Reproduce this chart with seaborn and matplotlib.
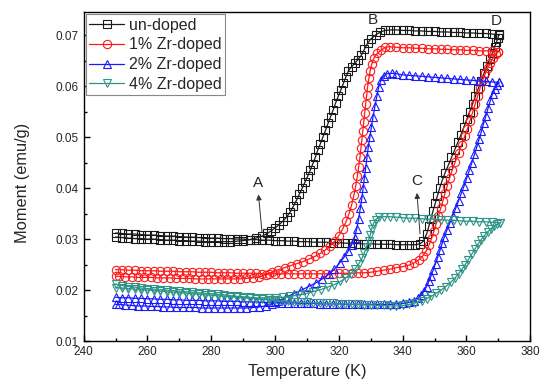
import seaborn as sns
import pandas as pd
import matplotlib.pyplot as plt
from matplotlib.ticker import MultipleLocator, FormatStrFormatter

# ---- data (heating branch, then cooling branch) ----
undoped_heat_T = [250, 252, 254, 256, 258, 260, 262, 264, 266, 268, 270, 272, 274, 276, 278, 280,
                  282, 284, 286, 288, 290, 292, 294, 296, 298, 300, 302, 304, 306, 308, 310, 312,
                  314, 316, 318, 320, 322, 324, 326, 328, 330, 332, 334, 336, 338, 340, 342, 344,
                  345.5, 346.5, 347.5, 348.2, 348.8, 349.5, 350.2, 350.9, 351.6, 352.4, 353.3,
                  354.3, 355.3, 356.3, 357.3, 358.3, 359.2, 360.1, 361, 361.9, 362.8, 363.7,
                  364.6, 365.5, 366.4, 367.3, 368.1, 368.8, 369.4, 369.9, 370.2]
undoped_heat_M = [.0312, .0311, .0310, .0310, .0309, .0308, .0308, .0307, .0306, .0306, .0305,
                  .0304, .0304, .0303, .0303, .0302, .0302, .0301, .0301, .0300, .0300, .0299,
                  .0299, .0298, .0298, .0297, .0297, .0296, .0296, .0295, .0295, .0294, .0294,
                  .0294, .0293, .0293, .0292, .0292, .0291, .0291, .0291, .0290, .0290, .0290,
                  .0289, .0289, .0289, .0289, .0291, .0296, .0310, .0325, .0340, .0355, .0370,
                  .0385, .0400, .0415, .0430, .0445, .0460, .0475, .0490, .0505, .0520, .0535,
                  .0550, .0565, .0580, .0595, .0610, .0625, .0640, .0653, .0665, .0676, .0686,
                  .0695, .0702]
undoped_cool_T = [370.2, 368, 366, 364, 362, 360, 358, 356, 354, 352, 350, 348, 346, 344, 342,
                  340, 338, 336, 334.5, 333, 331.5, 330, 329, 328, 327, 326, 325, 324, 323,
                  322.2, 321.4, 320.6, 319.8, 319, 318.2, 317.4, 316.6, 315.8, 315, 314.2,
                  313.4, 312.6, 311.8, 311, 310.2, 309.4, 308.5, 307.6, 306.7, 305.7, 304.7,
                  303.6, 302.4, 301.2, 300, 298.8, 297.5, 296, 294, 292, 290, 288, 286, 284,
                  282, 280, 278, 276, 274, 272, 270, 268, 266, 264, 262, 260, 258, 256, 254,
                  252, 250]
undoped_cool_M = [.0700, .0702, .0703, .0703, .0704, .0704, .0705, .0705, .0706, .0706, .0707,
                  .0707, .0708, .0708, .0709, .0709, .0710, .0710, .0709, .0706, .0700, .0692,
                  .0684, .0672, .0660, .0652, .0645, .0638, .0630, .0618, .0605, .0592, .0580,
                  .0567, .0553, .0540, .0527, .0513, .0500, .0487, .0475, .0460, .0447, .0435,
                  .0423, .0412, .0400, .0388, .0376, .0364, .0353, .0343, .0335, .0328, .0322,
                  .0316, .0311, .0306, .0302, .0299, .0297, .0296, .0295, .0295, .0295, .0295,
                  .0295, .0296, .0296, .0297, .0297, .0298, .0298, .0299, .0300, .0300, .0301,
                  .0301, .0302, .0303, .0304]

zr1_heat_T = [250, 252, 254, 256, 258, 260, 262, 264, 266, 268, 270, 272, 274, 276, 278, 280,
              282, 284, 286, 288, 290, 292, 294, 296, 298, 300, 302, 304, 306, 308, 310, 312,
              314, 316, 318, 320, 322, 324, 326, 328, 330, 332, 334, 336, 338, 340, 342, 343.5,
              345, 346.3, 347.4, 348.3, 349.1, 349.8, 350.5, 351.2, 351.9, 352.6, 353.3, 354,
              354.7, 355.5, 356.5, 357.5, 358.5, 359.5, 360.3, 361.1, 361.9, 362.7, 363.5,
              364.3, 365.1, 365.9, 366.7, 367.5, 368.3, 369.1, 370]
zr1_heat_M = [.0240, .0240, .0239, .0239, .0238, .0238, .0238, .0237, .0237, .0237, .0236,
              .0236, .0236, .0235, .0235, .0235, .0234, .0234, .0234, .0233, .0233, .0233,
              .0233, .0232, .0232, .0232, .0232, .0232, .0232, .0232, .0232, .0232, .0232,
              .0232, .0232, .0233, .0233, .0233, .0234, .0234, .0235, .0237, .0239, .0241,
              .0244, .0246, .0249, .0253, .0259, .0267, .0277, .0289, .0302, .0316, .0330,
              .0345, .0360, .0375, .0390, .0405, .0420, .0435, .0452, .0468, .0485, .0502,
              .0516, .0532, .0548, .0564, .0580, .0597, .0612, .0625, .0636, .0646, .0655,
              .0662, .0667]
zr1_cool_T = [370, 368, 366, 364, 362, 360, 358, 356, 354, 352, 350, 348, 346, 344, 342, 340,
              338, 336, 334.5, 333.2, 332, 331, 330.3, 329.8, 329.4, 329, 328.7, 328.4, 328.1,
              327.8, 327.5, 327.2, 326.9, 326.6, 326.2, 325.8, 325.3, 324.7, 324, 323.2,
              322.3, 321.2, 320, 318.7, 317.3, 315.8, 314.2, 312.5, 310.7, 308.8, 306.9, 305,
              303, 301, 299, 297, 295, 293, 291, 289, 287, 285, 283, 281, 279, 277, 275, 273,
              271, 269, 267, 265, 263, 261, 259, 257, 255, 253, 251, 250]
zr1_cool_M = [.0667, .0668, .0669, .0669, .0670, .0670, .0671, .0671, .0672, .0672, .0673,
              .0673, .0674, .0674, .0675, .0675, .0676, .0677, .0676, .0670, .0664, .0655,
              .0643, .0630, .0615, .0598, .0582, .0565, .0548, .0530, .0512, .0495, .0478,
              .0460, .0442, .0424, .0405, .0386, .0367, .0350, .0335, .0320, .0307, .0296,
              .0287, .0279, .0272, .0266, .0261, .0256, .0252, .0248, .0244, .0240, .0235,
              .0230, .0226, .0224, .0223, .0222, .0222, .0222, .0222, .0222, .0222, .0222,
              .0222, .0223, .0223, .0223, .0224, .0224, .0224, .0225, .0225, .0225, .0226,
              .0226, .0227, .0227]

zr2_heat_T = [250, 252, 254, 256, 258, 260, 262, 264, 266, 268, 270, 272, 274, 276, 278, 280,
              282, 284, 286, 288, 290, 292, 294, 296, 298, 300, 302, 304, 306, 308, 310, 312,
              314, 316, 318, 320, 322, 324, 326, 328, 330, 332, 334, 336, 338, 340, 342, 343.5,
              344.8, 345.8, 346.7, 347.5, 348.2, 348.9, 349.6, 350.3, 351, 351.7, 352.4, 353.1,
              353.9, 354.8, 355.7, 356.6, 357.5, 358.4, 359.3, 360.1, 360.9, 361.7, 362.5,
              363.3, 364, 364.7, 365.4, 366.1, 366.8, 367.5, 368.2, 368.9, 369.6, 370.3]
zr2_heat_M = [.0186, .0185, .0185, .0184, .0184, .0183, .0183, .0182, .0182, .0181, .0181,
              .0180, .0180, .0180, .0179, .0179, .0179, .0178, .0178, .0178, .0177, .0177,
              .0177, .0176, .0176, .0176, .0175, .0175, .0175, .0174, .0174, .0174, .0173,
              .0173, .0173, .0173, .0172, .0172, .0172, .0172, .0172, .0172, .0172, .0172,
              .0173, .0174, .0176, .0179, .0184, .0190, .0198, .0207, .0217, .0228, .0240,
              .0252, .0265, .0278, .0292, .0305, .0318, .0332, .0346, .0360, .0375, .0390,
              .0405, .0420, .0435, .0450, .0466, .0482, .0497, .0512, .0527, .0542, .0557,
              .0572, .0585, .0595, .0602, .0607]
zr2_cool_T = [370.3, 368, 366, 364, 362, 360, 358, 356, 354, 352, 350, 348, 346, 344, 342,
              340, 338, 336.5, 335, 334, 333.2, 332.5, 331.9, 331.3, 330.7, 330.2, 329.7,
              329.2, 328.8, 328.4, 328, 327.6, 327.2, 326.7, 326.2, 325.6, 324.9, 324, 322.9,
              321.6, 320.2, 318.6, 316.8, 314.8, 312.7, 310.5, 308.2, 305.8, 303.4, 301, 299,
              297, 295, 293, 291, 289, 287, 285, 283, 281, 279, 277, 275, 273, 271, 269, 267,
              265, 263, 261, 259, 257, 255, 253, 251, 250]
zr2_cool_M = [.0607, .0608, .0609, .0610, .0611, .0612, .0613, .0614, .0615, .0616, .0617,
              .0618, .0619, .0620, .0621, .0622, .0624, .0625, .0624, .0620, .0612, .0598,
              .0580, .0560, .0540, .0520, .0500, .0480, .0460, .0440, .0420, .0400, .0380,
              .0360, .0340, .0320, .0303, .0289, .0276, .0264, .0253, .0241, .0231, .0222,
              .0214, .0207, .0200, .0193, .0186, .0179, .0173, .0169, .0167, .0166, .0165,
              .0165, .0165, .0165, .0165, .0165, .0165, .0165, .0166, .0166, .0166, .0166,
              .0167, .0167, .0168, .0168, .0169, .0169, .0170, .0171, .0172, .0172]

zr4_heat_T = [250, 252, 254, 256, 258, 260, 262, 264, 266, 268, 270, 272, 274, 276, 278, 280,
              282, 284, 286, 288, 290, 292, 294, 296, 298, 300, 302, 304, 306, 308, 310, 312,
              314, 316, 318, 320, 322, 324, 326, 328, 330, 332, 334, 336, 338, 340, 342, 344,
              346, 347.5, 349, 350.5, 352, 353.5, 355, 356.3, 357.5, 358.6, 359.6, 360.6,
              361.6, 362.6, 363.6, 364.6, 365.6, 366.6, 367.6, 368.6, 369.6, 370.5]
zr4_heat_M = [.0205, .0204, .0203, .0202, .0201, .0200, .0199, .0198, .0197, .0196, .0195,
              .0194, .0193, .0192, .0191, .0190, .0189, .0188, .0187, .0186, .0185, .0184,
              .0183, .0182, .0181, .0180, .0179, .0178, .0177, .0176, .0176, .0175, .0175,
              .0174, .0174, .0173, .0173, .0172, .0172, .0171, .0171, .0170, .0170, .0169,
              .0169, .0170, .0172, .0175, .0179, .0183, .0188, .0194, .0200, .0207, .0215,
              .0223, .0232, .0241, .0250, .0260, .0270, .0280, .0290, .0299, .0307, .0314,
              .0320, .0325, .0329, .0332]
zr4_cool_T = [370.5, 368, 366, 364, 362, 360, 358, 356, 354, 352, 350, 348, 346, 344, 342,
              340, 338, 336, 334, 332.5, 331.5, 330.8, 330.3, 329.8, 329.3, 328.7, 328, 327.2,
              326.2, 325, 323.7, 322.2, 320.5, 318.6, 316.5, 314.3, 312, 309.6, 307.2, 304.8,
              302.4, 300, 298, 296, 294, 292, 290, 288, 286, 284, 282, 280, 278, 276, 274, 272,
              270, 268, 266, 264, 262, 260, 258, 256, 254, 252, 250]
zr4_cool_M = [.0332, .0333, .0334, .0334, .0335, .0335, .0336, .0337, .0337, .0338, .0339,
              .0339, .0340, .0341, .0341, .0342, .0343, .0344, .0344, .0343, .0338, .0330,
              .0320, .0308, .0297, .0285, .0273, .0262, .0251, .0241, .0232, .0224, .0217,
              .0211, .0206, .0201, .0197, .0193, .0190, .0188, .0186, .0185, .0185, .0185,
              .0185, .0186, .0187, .0188, .0189, .0191, .0192, .0193, .0194, .0195, .0196,
              .0197, .0198, .0199, .0200, .0201, .0202, .0203, .0204, .0206, .0207, .0209,
              .0212]

names = ['un-doped', '1% Zr-doped', '2% Zr-doped', '4% Zr-doped']
colors = ['#1a1a1a', '#ff1a1a', '#1a1aff', '#2e9486']
markers = ['s', 'o', '^', 'v']

rows = []
branches = [(undoped_heat_T + undoped_cool_T, undoped_heat_M + undoped_cool_M),
            (zr1_heat_T + zr1_cool_T, zr1_heat_M + zr1_cool_M),
            (zr2_heat_T + zr2_cool_T, zr2_heat_M + zr2_cool_M),
            (zr4_heat_T + zr4_cool_T, zr4_heat_M + zr4_cool_M)]
for name, (ts, ms) in zip(names, branches):
    rows.append(pd.DataFrame({'T': ts, 'M': ms, 'Sample': name}))
df = pd.concat(rows, ignore_index=True)

sns.set_style('ticks')
plt.rcParams['font.family'] = ['Liberation Sans', 'DejaVu Sans']

fig = plt.figure(figsize=(5.4, 3.89), dpi=100)
ax = fig.add_axes([0.155, 0.123, 0.827, 0.846])

for name, c, mk in zip(names, colors, markers):
    sns.lineplot(data=df[df['Sample'] == name], x='T', y='M', sort=False, estimator=None,
                 color=c, marker=mk, markersize=6, markerfacecolor='none',
                 markeredgecolor=c, markeredgewidth=0.8, linewidth=0.9, label=name, ax=ax)

ax.set_xlim(240, 380)
ax.set_ylim(0.01, 0.0745)
ax.xaxis.set_major_locator(MultipleLocator(20))
ax.xaxis.set_minor_locator(MultipleLocator(10))
ax.yaxis.set_major_locator(MultipleLocator(0.01))
ax.yaxis.set_minor_locator(MultipleLocator(0.005))
ax.yaxis.set_major_formatter(FormatStrFormatter('%.2f'))
ax.tick_params(which='both', direction='in', labelsize=8.5, width=1, color='black')
ax.tick_params(which='major', length=4)
ax.tick_params(which='minor', length=2.5)
for sp in ax.spines.values():
    sp.set_color('black')
    sp.set_linewidth(1)
ax.set_xlabel('Temperature (K)', fontsize=11.8)
ax.set_ylabel('Moment (emu/g)', fontsize=11.8)
ax.yaxis.set_label_coords(-0.121, 0.48)

# point labels and arrows
arr = dict(arrowstyle='-|>', color='#333333', lw=0.7, mutation_scale=8)
ax.annotate('', xy=(294.7, 0.0393), xytext=(296, 0.0307), arrowprops=arr)
ax.annotate('', xy=(344.4, 0.0396), xytext=(345.5, 0.0305), arrowprops=arr)
ax.text(294.6, 0.0397, 'A', fontsize=11, ha='center', va='bottom')
ax.text(344.4, 0.0400, 'C', fontsize=11, ha='center', va='bottom')
ax.text(330.6, 0.0716, 'B', fontsize=11, ha='center', va='bottom')
ax.text(369.2, 0.0714, 'D', fontsize=11, ha='center', va='bottom')

leg = ax.legend(loc='upper left', fontsize=11.5, frameon=True, fancybox=False,
                edgecolor='#888888', framealpha=1, borderpad=0.2, labelspacing=0.3,
                handlelength=2.2, handletextpad=0.3, borderaxespad=0.15)
leg.get_frame().set_linewidth(0.8)

fig.savefig('out.png', dpi=100)
